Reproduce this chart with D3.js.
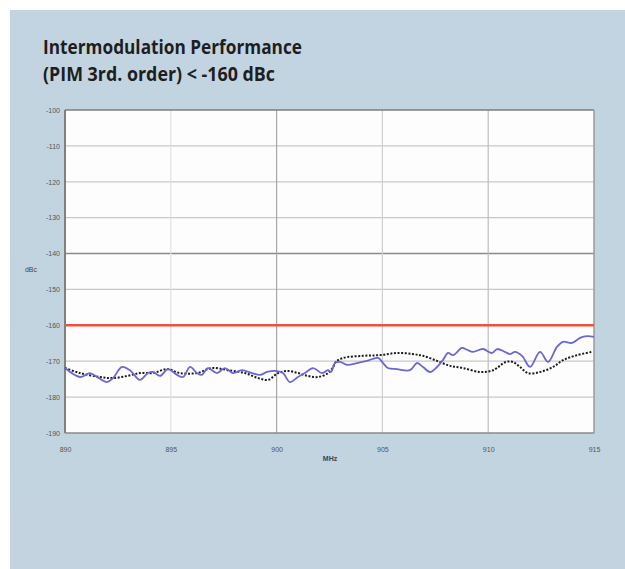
<!DOCTYPE html>
<html><head><meta charset="utf-8">
<script src="https://cdn.jsdelivr.net/npm/d3@7"></script>
<style>html,body{margin:0;padding:0;background:#fff;}svg{display:block;}</style>
</head><body>
<svg id="chart" width="625" height="569"></svg>
<script>
const titleLines = ["Intermodulation Performance", "(PIM 3rd. order) < -160 dBc"];
const xTicks = [890, 895, 900, 905, 910, 915];
const yTicks = [-100, -110, -120, -130, -140, -150, -160, -170, -180, -190];
const limitValue = -160;
const xLabel = "MHz";
const yLabel = "dBc";

const blueFreq = [890.0, 890.71, 891.18, 891.51, 891.98, 892.27, 892.69, 893.07, 893.54, 893.92, 894.16, 894.49, 894.87, 895.29, 895.58, 895.91, 896.24, 896.47, 896.76, 897.18, 897.56, 897.94, 898.36, 898.84, 899.22, 899.55, 899.92, 900.30, 900.63, 901.01, 901.34, 901.72, 902.15, 902.43, 902.57, 902.76, 903.00, 903.33, 903.80, 904.27, 904.79, 905.03, 905.26, 905.69, 906.30, 906.64, 906.92, 907.25, 907.58, 907.86, 908.10, 908.34, 908.76, 909.00, 909.28, 909.75, 910.18, 910.42, 910.79, 911.03, 911.27, 911.60, 911.98, 912.45, 912.83, 913.25, 913.54, 913.96, 914.34, 914.67, 915.0];
const blueDb = [-171.9, -174.4, -173.3, -174.4, -175.8, -174.7, -171.6, -172.5, -175.2, -173.3, -173.0, -174.1, -172.2, -173.8, -174.4, -171.6, -173.3, -173.8, -171.9, -173.3, -171.9, -173.3, -172.5, -173.3, -173.8, -173.0, -172.7, -173.3, -175.8, -174.4, -173.3, -171.9, -173.3, -172.5, -173.0, -170.5, -170.2, -171.0, -170.5, -169.9, -169.1, -170.5, -171.9, -172.2, -172.5, -170.5, -171.6, -173.0, -171.6, -169.7, -167.7, -168.3, -166.3, -166.8, -167.4, -166.6, -167.7, -166.6, -167.4, -168.0, -167.4, -168.5, -171.6, -167.4, -170.2, -166.0, -164.6, -164.9, -163.5, -163.0, -163.2];

const blackFreq = [890.0, 890.71, 891.65, 892.27, 892.93, 893.54, 894.16, 894.82, 895.44, 896.24, 896.95, 897.71, 898.50, 899.13, 899.60, 900.07, 900.54, 901.01, 901.48, 901.96, 902.43, 902.67, 902.80, 903.14, 904.08, 904.89, 905.69, 906.45, 906.92, 907.58, 908.20, 908.81, 909.61, 910.23, 910.84, 911.17, 911.50, 911.88, 912.45, 913.06, 913.54, 914.20, 914.91];
const blackDb = [-171.9, -173.3, -174.4, -174.7, -174.1, -173.3, -173.3, -172.2, -173.3, -173.3, -171.9, -172.5, -173.3, -174.7, -175.2, -173.3, -172.7, -173.3, -174.1, -174.4, -173.3, -171.6, -170.2, -169.1, -168.5, -168.3, -167.7, -168.0, -168.5, -169.9, -171.3, -171.9, -173.0, -172.5, -170.2, -170.2, -171.6, -173.3, -173.0, -171.6, -169.7, -168.3, -167.4];

const svg = d3.select("#chart");

// background panel
const defs = svg.append("defs");
const grad = defs.append("linearGradient").attr("id","bg").attr("x1",0).attr("y1",0).attr("x2",0).attr("y2",1);
grad.append("stop").attr("offset","0%").attr("stop-color","#c2d4e1");
grad.append("stop").attr("offset","100%").attr("stop-color","#c3d3e0");
svg.append("rect").attr("x",10).attr("y",10).attr("width",615).attr("height",559).attr("fill","url(#bg)");

// title
svg.selectAll("text.title").data(titleLines).enter().append("text")
  .attr("class","title")
  .attr("x",43).attr("y",(d,i)=>54+i*27)
  .attr("font-family","'Open Sans', 'Noto Sans', sans-serif")
  .attr("font-weight","bold").attr("font-size",19)
  .attr("fill","#1e1e1e")
  .attr("textLength",(d,i)=> i===0 ? 259 : 232)
  .attr("lengthAdjust","spacingAndGlyphs")
  .text(d=>d);

const pL = 65, pR = 594, pT = 110, pB = 433;
const x = d3.scaleLinear().domain([890, 915]).range([pL, pR]);
const y = d3.scaleLinear().domain([-100, -190]).range([pT, pB]);

// plot background
svg.append("rect").attr("x",pL).attr("y",pT).attr("width",pR-pL).attr("height",pB-pT).attr("fill","#fdfdfd");

// horizontal grid
const hColor = v => v === -140 ? "#8a8a8a" : (v === -100 || v === -190 ? "none" : "#c8c8c8");
svg.append("g").selectAll("line").data(yTicks).enter().append("line")
  .attr("x1",pL).attr("x2",pR)
  .attr("y1",d=>y(d)).attr("y2",d=>y(d))
  .attr("stroke",d=>hColor(d)).attr("stroke-width",d=> d===-140 ? 1.5 : 1.2);

// vertical grid
const vColor = {895:"#e2e2e2", 900:"#a8a8a8", 905:"#cfcfcf", 910:"#bdbdbd"};
svg.append("g").selectAll("line").data(xTicks.filter(d=>vColor[d])).enter().append("line")
  .attr("y1",pT).attr("y2",pB)
  .attr("x1",d=>x(d)).attr("x2",d=>x(d))
  .attr("stroke",d=>vColor[d]).attr("stroke-width",1.2);

// frame
svg.append("line").attr("x1",pL).attr("x2",pR).attr("y1",pT).attr("y2",pT).attr("stroke","#7d7d7d").attr("stroke-width",1.5);
svg.append("line").attr("x1",pR).attr("x2",pR).attr("y1",pT).attr("y2",pB).attr("stroke","#9a9a9a").attr("stroke-width",1.5);
svg.append("line").attr("x1",pL).attr("x2",pR).attr("y1",pB).attr("y2",pB).attr("stroke","#8a8a8a").attr("stroke-width",1.5);
svg.append("line").attr("x1",pL).attr("x2",pL).attr("y1",pT).attr("y2",pB).attr("stroke","#808080").attr("stroke-width",2);

// axes via d3
const yAxis = d3.axisLeft(y).tickValues(yTicks).tickSize(0).tickPadding(5).tickFormat(d=>String(d));
const gy = svg.append("g").attr("transform",`translate(${pL},0)`).call(yAxis);
gy.select(".domain").remove();
gy.selectAll("text").attr("font-family","'Liberation Sans', Arial, sans-serif").attr("font-size",7).attr("fill","#555");

const xAxis = d3.axisBottom(x).tickValues(xTicks).tickSize(0).tickPadding(14).tickFormat(d=>String(d));
const gx = svg.append("g").attr("transform",`translate(0,${pB})`).call(xAxis);
gx.select(".domain").remove();
gx.selectAll("text").attr("font-family","'Liberation Sans', Arial, sans-serif").attr("font-size",7).attr("fill","#555");

svg.append("text").attr("x",330).attr("y",461).attr("text-anchor","middle")
  .attr("font-family","'Liberation Sans', Arial, sans-serif").attr("font-size",7).attr("font-weight","bold").attr("fill","#444").text(xLabel);
svg.append("text").attr("x",31).attr("y",272).attr("text-anchor","middle")
  .attr("font-family","'Liberation Sans', Arial, sans-serif").attr("font-size",7).attr("fill","#444").text(yLabel);

// limit line
svg.append("line").attr("x1",pL).attr("x2",pR).attr("y1",y(limitValue)).attr("y2",y(limitValue))
  .attr("stroke","#f0503c").attr("stroke-width",2.5);

const line = d3.line().x(d=>x(d[0])).y(d=>y(d[1])).curve(d3.curveCatmullRom.alpha(0.5));

svg.append("path").datum(blackFreq.map((f,i)=>[f, blackDb[i]]))
  .attr("d",line).attr("fill","none").attr("stroke","#1c1c1c").attr("stroke-width",2)
  .attr("stroke-dasharray","2,1.6");

svg.append("path").datum(blueFreq.map((f,i)=>[f, blueDb[i]]))
  .attr("d",line).attr("fill","none").attr("stroke","#6b68cf").attr("stroke-width",1.8);
</script>
</body></html>
